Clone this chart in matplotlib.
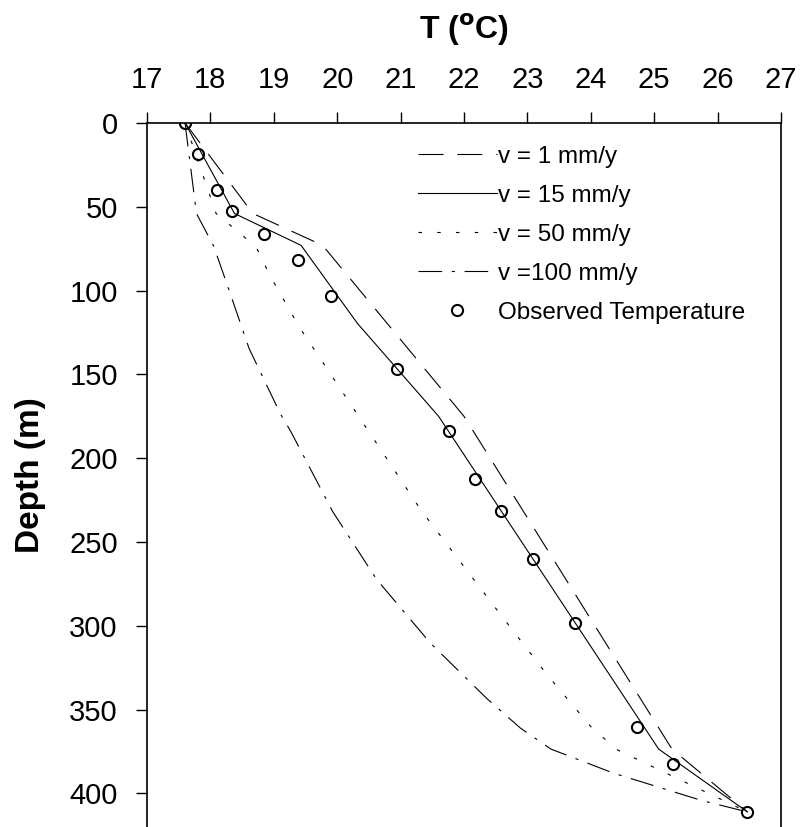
import numpy as np
import matplotlib
matplotlib.use("Agg")
import matplotlib.pyplot as plt

plt.rcParams['font.family'] = ['Liberation Sans', 'DejaVu Sans']
plt.rcParams['lines.scale_dashes'] = False

# observed temperature profile
obs_depth = [0, 18.7, 40, 52.6, 66.5, 82, 103.5, 146.6, 183.6, 212.4, 231.3,
             260.1, 298.1, 360.1, 382.7, 411]
obs_temp = [17.6, 17.8, 18.11, 18.34, 18.84, 19.38, 19.91, 20.95, 21.77, 22.18,
            22.59, 23.09, 23.75, 24.73, 25.30, 26.47]

# model curves (T, depth)
v1_temp = [17.6, 18.67, 19.77, 22.0, 25.28, 26.47]
v1_depth = [0, 54, 73, 175, 373.5, 411]

v15_temp = [17.6, 18.38, 19.43, 20.32, 21.6, 25.07, 26.47]
v15_depth = [0, 54, 73, 119.6, 175, 373.5, 411]

v50_temp = [17.6, 18.09, 18.72, 18.95, 19.40, 21.32, 22.52, 23.31, 24.02, 24.42, 26.47]
v50_depth = [0, 54, 73.9, 91.8, 121.6, 230.9, 290.5, 329.2, 361, 374, 411]

v100_temp = [17.6, 17.78, 18.05, 18.24, 18.61, 19.10, 19.27, 19.93, 20.62, 21.47,
             22.37, 22.89, 23.37, 24.36, 25.75, 26.47]
v100_depth = [0, 54, 73.3, 93.8, 134.5, 173.2, 184.2, 231.9, 272.2, 310.3,
              343.7, 361, 373.5, 387.9, 404.2, 411]

labels = ['v = 1 mm/y', 'v = 15 mm/y', 'v = 50 mm/y', 'v =100 mm/y', 'Observed Temperature']
x_ticks = list(range(17, 28))
y_ticks = list(range(0, 401, 50))

fig = plt.figure(figsize=(8.03, 8.27), dpi=100)
ax = fig.add_axes([147 / 803, 0, (781 - 147) / 803, 704 / 827])

lw = 0.8
ax.plot(v1_temp, v1_depth, color='k', lw=lw, dashes=(18, 10), label=labels[0])
ax.plot(v15_temp, v15_depth, color='k', lw=lw, label=labels[1])
ax.plot(v50_temp, v50_depth, color='k', lw=lw, dashes=(2.5, 11), label=labels[2])
ax.plot(v100_temp, v100_depth, color='k', lw=lw, dashes=(17, 7, 2.2, 7), label=labels[3])
ax.plot(obs_temp, obs_depth, ls='none', marker='o', ms=8, mfc='none', mec='k',
        mew=1.5, label=labels[4])

ax.set_xlim(17, 27)
ax.set_ylim(420, 0)
ax.set_xticks(x_ticks)
ax.set_yticks(y_ticks)
ax.xaxis.tick_top()
ax.xaxis.set_label_position('top')
ax.spines['bottom'].set_visible(False)
for s in ['top', 'left', 'right']:
    ax.spines[s].set_linewidth(1.2)
ax.tick_params(axis='x', direction='out', length=8, width=1, pad=13, labelsize=21)
ax.tick_params(axis='y', direction='out', length=8, width=1, pad=13, labelsize=21)

ax.set_xlabel(r'T ($\mathbf{^o}$C)', fontsize=23, fontweight='bold', labelpad=19)
ax.set_ylabel('Depth (m)', fontsize=24, fontweight='bold', labelpad=17)

ax.legend(loc='upper left', bbox_to_anchor=(0.4274, 0.968), frameon=False,
          fontsize=17.5, handlelength=3.25, handletextpad=0.05, labelspacing=0.7,
          borderaxespad=0, borderpad=0)

fig.savefig('out.png', dpi=100)
